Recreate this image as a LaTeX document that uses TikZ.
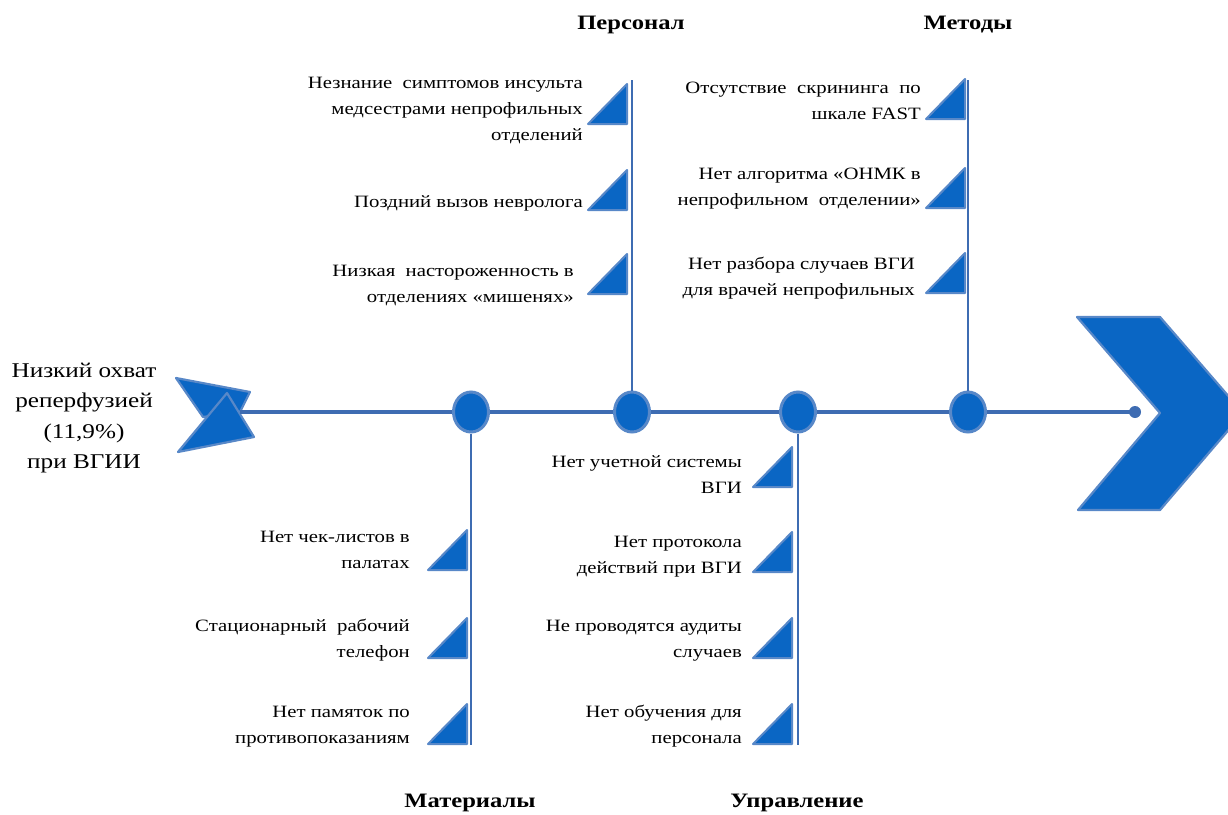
\documentclass[tikz,border=0pt]{standalone}
\usepackage{fontspec}
\setmainfont{Liberation Serif}[FakeStretch=1.2]
\usetikzlibrary{shapes.geometric}
\definecolor{fillblue}{RGB}{10,102,196}
\definecolor{edgeblue}{RGB}{88,136,200}
\definecolor{lineblue}{RGB}{62,108,178}
\begin{document}
\begin{tikzpicture}[x=1pt,y=-1pt,
  shapebox/.style={fill=fillblue,draw=edgeblue,line width=2.2pt,line join=round},
  spine/.style={draw=lineblue,line width=4pt},
  bone/.style={draw=lineblue,line width=2pt},
  joint/.style={ellipse,fill=fillblue,draw=edgeblue,line width=3pt,minimum width=35pt,minimum height=40pt,inner sep=0pt},
  cause/.style={align=right,anchor=east,font=\fontsize{17.3}{26}\selectfont,inner sep=0pt},
  head/.style={font=\fontsize{20.5}{24}\selectfont\bfseries,inner sep=0pt},
  tri/.style={fill=fillblue,draw=edgeblue,line width=2pt,line join=round}
]
\useasboundingbox (0,0) rectangle (1228,814);
\clip (0,0) rectangle (1228,814);

% tail
\draw[shapebox] (176,378) -- (250,392) -- (240,412) -- (203,417) -- cycle;
\draw[shapebox] (227,393) -- (254,437) -- (178,452) -- cycle;

% head chevron
\draw[shapebox] (1077,317) -- (1160,317) -- (1243,413) -- (1160,510) -- (1078,510) -- (1160,413) -- cycle;

% spine
\coordinate (tailpt) at (240,412);
\node[circle,fill=lineblue,minimum size=12pt,inner sep=0pt] (enddot) at (1135,412) {};
\draw[spine] (tailpt) -- (enddot.center);

% joints
\node[joint] (jmat) at (471,412) {};
\node[joint] (jper) at (632,412) {};
\node[joint] (jman) at (798,412) {};
\node[joint] (jmet) at (968,412) {};

% bones
\coordinate (tper) at (632,80);
\coordinate (tmet) at (968,80);
\coordinate (bmat) at (471,745);
\coordinate (bman) at (798,745);
\draw[bone] (jper.north) -- (tper);
\draw[bone] (jmet.north) -- (tmet);
\draw[bone] (jmat.south) -- (bmat);
\draw[bone] (jman.south) -- (bman);

% triangles
\foreach \x/\y in {627/84,627/170,627/254, 965/79,965/168,965/253, 467/530,467/618,467/704, 792/447,792/532,792/618,792/704}
  \draw[tri] (\x-39,\y+40) -- (\x,\y) -- (\x,\y+40) -- cycle;

% headers
\node[head] (hper) at (631,25) {Персонал};
\node[head] (hmet) at (968,25) {Методы};
\node[head] (hmat) at (470,803) {Материалы};
\node[head] (hman) at (797,803) {Управление};

% effect
\node[align=center,font=\fontsize{21}{30.5}\selectfont,inner sep=0pt] (effect) at (84,418) {Низкий охват\\реперфузией\\(11,9\%)\\при ВГИИ};

% personnel causes
\node[cause] (p1) at (583,111) {Незнание \ симптомов инсульта\\медсестрами непрофильных\\отделений};
\node[cause] (p2) at (583,203) {Поздний вызов невролога};
\node[cause] (p3) at (574,286) {Низкая \ настороженность в\\отделениях «мишенях»};

% methods causes
\node[cause] (m1) at (921,101) {Отсутствие \ скрининга \ по\\шкале FAST};
\node[cause] (m2) at (921,189) {Нет алгоритма «ОНМК в\\непрофильном \ отделении»};
\node[cause] (m3) at (915,278) {Нет разбора случаев ВГИ\\для врачей непрофильных};

% materials causes
\node[cause] (a1) at (410,550) {Нет чек-листов в\\палатах};
\node[cause] (a2) at (410,640) {Стационарный \ рабочий\\телефон};
\node[cause] (a3) at (410,727) {Нет памяток по\\противопоказаниям};

% management causes
\node[cause] (u1) at (742,475) {Нет учетной системы\\ВГИ};
\node[cause] (u2) at (742,557) {Нет протокола\\действий при ВГИ};
\node[cause] (u3) at (742,641) {Не проводятся аудиты\\случаев};
\node[cause] (u4) at (742,726) {Нет обучения для\\персонала};
\end{tikzpicture}
\end{document}
